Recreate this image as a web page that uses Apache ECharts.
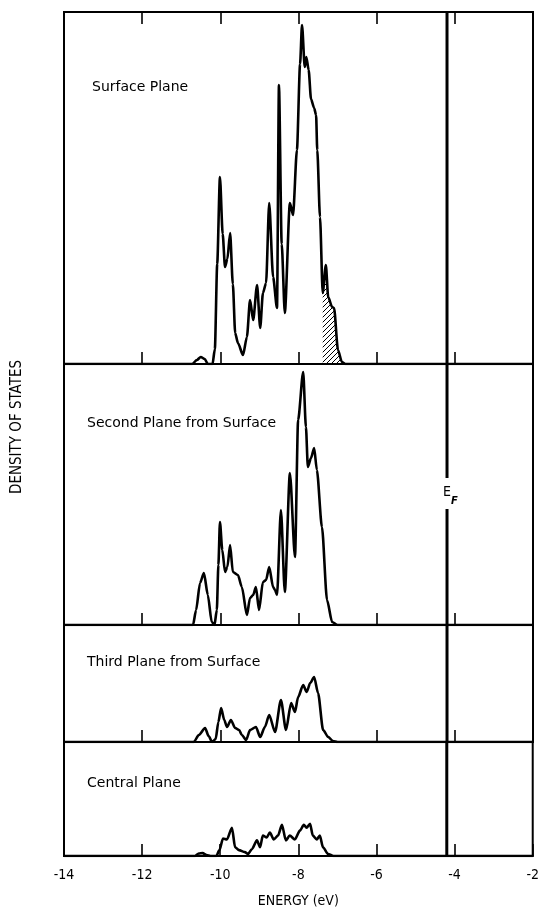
<!DOCTYPE html>
<html>
<head>
<meta charset="utf-8">
<script src="https://cdn.jsdelivr.net/npm/echarts@6/dist/echarts.min.js"></script>
<style>
  html, body { margin: 0; padding: 0; background: #fff; }
  #chart { width: 542px; height: 909px; }
</style>
</head>
<body>
<div id="chart"></div>
<script>
// Energy axis (eV)
const energyMin = -14;
const energyMax = -2;
const energyStep = 2;
const fermiEnergy = -4.2;

// Panel titles, top to bottom
const planeNames = [
  'Surface Plane',
  'Second Plane from Surface',
  'Third Plane from Surface',
  'Central Plane'
];

// Density of states per plane, [energy (eV), DOS (arb. units)]
const surfacePlane = [
  [-14, 0], [-10.72, 0], [-10.6, 0.4], [-10.5, 0.7], [-10.4, 0.5], [-10.32, 0], [-10.2, 0],
  [-10.14, 1.5], [-10.08, 10], [-10.01, 18.7], [-9.94, 13], [-9.88, 9.7], [-9.82, 10.5],
  [-9.75, 13.1], [-9.68, 8], [-9.62, 3.1], [-9.55, 2.1], [-9.42, 0.9], [-9.32, 2.7],
  [-9.24, 6.4], [-9.16, 4.4], [-9.06, 7.9], [-8.98, 3.6], [-8.91, 7.1], [-8.83, 8.1],
  [-8.75, 16.1], [-8.65, 8.7], [-8.55, 5.6], [-8.5, 27.9], [-8.43, 12], [-8.35, 5.1],
  [-8.22, 16.1], [-8.14, 14.9], [-8.04, 21.4], [-7.96, 30], [-7.91, 33.9], [-7.84, 29.7],
  [-7.8, 30.7], [-7.74, 29.4], [-7.68, 26.5], [-7.6, 25.6], [-7.55, 24.9], [-7.52, 21.4],
  [-7.45, 14.7], [-7.38, 7.1], [-7.3, 9.9], [-7.24, 6.7], [-7.14, 5.7], [-7.09, 5.6],
  [-6.99, 1.4], [-6.89, 0.2], [-6.8, 0], [-2, 0]
];

const secondPlane = [
  [-14, 0], [-10.7, 0], [-10.62, 1.5], [-10.52, 4.2], [-10.42, 5.2], [-10.32, 3], [-10.22, 0.3],
  [-10.15, 0], [-10.09, 1.5], [-10.05, 6], [-10.01, 10.3], [-9.95, 7.5], [-9.88, 5.3],
  [-9.82, 5.8], [-9.75, 8.0], [-9.68, 5.3], [-9.55, 5.0], [-9.45, 3.8], [-9.32, 1.0],
  [-9.24, 2.7], [-9.16, 3.0], [-9.09, 3.8], [-9.01, 1.5], [-8.91, 4.3], [-8.83, 4.5],
  [-8.75, 5.8], [-8.65, 3.8], [-8.6, 3.5], [-8.55, 3.0], [-8.45, 11.5], [-8.35, 3.3],
  [-8.22, 15.2], [-8.09, 6.8], [-8.01, 20.5], [-7.88, 25.3], [-7.81, 19.8], [-7.76, 15.8],
  [-7.68, 16.7], [-7.6, 17.7], [-7.53, 15.5], [-7.4, 9.8], [-7.27, 2.5], [-7.14, 0.3],
  [-7.0, 0], [-2, 0]
];

const thirdPlane = [
  [-14, 0], [-10.68, 0], [-10.55, 0.7], [-10.39, 1.4], [-10.3, 0.6], [-10.21, 0], [-10.12, 0.3],
  [-10.05, 2], [-9.98, 3.4], [-9.9, 2.2], [-9.83, 1.5], [-9.73, 2.2], [-9.62, 1.4],
  [-9.52, 1.2], [-9.45, 0.7], [-9.34, 0.2], [-9.24, 1.2], [-9.09, 1.5], [-8.98, 0.5],
  [-8.86, 1.5], [-8.75, 2.7], [-8.6, 1.0], [-8.45, 4.2], [-8.32, 1.2], [-8.19, 3.9],
  [-8.09, 3.0], [-8.01, 4.5], [-7.88, 5.7], [-7.79, 5.0], [-7.7, 5.9], [-7.6, 6.5],
  [-7.5, 4.9], [-7.37, 1.2], [-7.24, 0.5], [-7.12, 0.1], [-7.0, 0], [-2, 0]
];

const centralPlane = [
  [-14, 0], [-10.65, 0], [-10.55, 0.25], [-10.45, 0.3], [-10.35, 0.1], [-10.25, 0], [-10.1, 0],
  [-10.02, 0.6], [-9.93, 1.8], [-9.83, 1.7], [-9.7, 2.9], [-9.62, 0.9], [-9.52, 0.6],
  [-9.37, 0.4], [-9.29, 0.2], [-9.19, 0.7], [-9.06, 1.6], [-8.98, 0.9], [-8.91, 2.1],
  [-8.81, 1.9], [-8.73, 2.4], [-8.63, 1.7], [-8.52, 2.1], [-8.42, 3.2], [-8.32, 1.6],
  [-8.22, 2.1], [-8.09, 1.7], [-7.96, 2.6], [-7.86, 3.2], [-7.79, 2.9], [-7.7, 3.3],
  [-7.63, 2.1], [-7.53, 1.7], [-7.45, 2.1], [-7.37, 0.9], [-7.24, 0.2], [-7.1, 0], [-2, 0]
];

// Shaded part of the surface-plane DOS (energy window, eV)
const hatchWindow = [-7.4, -6.85];

// Full-scale DOS of each panel (same units in every panel)
const panelMax = [35.2, 26.1, 11.7, 11.7];
// Gap in the Fermi-level line (second panel) that leaves room for its label
const fermiGap = [11.6, 14.7];

const planes = [surfacePlane, secondPlane, thirdPlane, centralPlane];

// Layout of the stacked panels (pixels)
const plotLeft = 64, plotRight = 9;
const panelTops = [12, 364, 625, 742];
const panelHeights = [352, 261, 117, 117];

const font = "'DejaVu Sans Condensed', 'DejaVu Sans', sans-serif";
const textFont = "'DejaVu Sans', sans-serif";

// Diagonal hatch pattern
function hatchPattern() {
  const c = document.createElement('canvas');
  c.width = 5; c.height = 5;
  const g = c.getContext('2d');
  g.strokeStyle = '#000';
  g.lineWidth = 1;
  g.beginPath();
  g.moveTo(0, 5); g.lineTo(5, 0);
  g.moveTo(-1, 1); g.lineTo(1, -1);
  g.moveTo(4, 6); g.lineTo(6, 4);
  g.stroke();
  return { image: c, repeat: 'repeat' };
}

const chart = echarts.init(document.getElementById('chart'), null, { renderer: 'canvas' });

const grids = [], xAxes = [], yAxes = [], series = [];

planes.forEach((data, i) => {
  grids.push({
    left: plotLeft, right: plotRight, top: panelTops[i], height: panelHeights[i],
    show: true, borderColor: '#000', borderWidth: 2, backgroundColor: 'transparent'
  });
  const last = i === planes.length - 1;
  xAxes.push({
    type: 'value', gridIndex: i, position: 'bottom',
    min: energyMin, max: energyMax, interval: energyStep,
    axisLine: { show: true, lineStyle: { color: '#000', width: 2 } },
    axisTick: { show: true, inside: true, length: 12, lineStyle: { color: '#000', width: 1.6 } },
    splitLine: { show: false },
    axisLabel: {
      show: last, color: '#000', fontFamily: font, fontSize: 14, margin: 12
    },
    name: last ? 'ENERGY (eV)' : '',
    nameLocation: 'middle', nameGap: 38,
    nameTextStyle: { color: '#000', fontFamily: font, fontSize: 14 }
  });
  yAxes.push({
    type: 'value', gridIndex: i, min: 0, max: panelMax[i], show: false
  });
});

// Tick marks along the top edge of the first panel
xAxes.push({
  type: 'value', gridIndex: 0, position: 'top',
  min: energyMin, max: energyMax, interval: energyStep,
  axisLine: { show: true, lineStyle: { color: '#000', width: 2 } },
  axisTick: { show: true, inside: true, length: 12, lineStyle: { color: '#000', width: 1.6 } },
  axisLabel: { show: false }, splitLine: { show: false }
});

planes.forEach((data, i) => {
  series.push({
    type: 'line', xAxisIndex: i, yAxisIndex: i, data: data,
    smooth: 0.25, smoothMonotone: 'x', symbol: 'none',
    lineStyle: { color: '#000', width: 2.6 }, z: 3, silent: true
  });
  // Fermi level
  const top = panelMax[i];
  const fermiData = i === 1
    ? [[fermiEnergy, 0], [fermiEnergy, fermiGap[0]], null, [fermiEnergy, fermiGap[1]], [fermiEnergy, top]]
    : [[fermiEnergy, 0], [fermiEnergy, top]];
  series.push({
    type: 'line', xAxisIndex: i, yAxisIndex: i, data: fermiData,
    symbol: 'none', connectNulls: false,
    lineStyle: { color: '#000', width: 3 }, z: 4, silent: true
  });
});

// Hatched region under the surface-plane curve
series.push({
  type: 'line', xAxisIndex: 0, yAxisIndex: 0,
  data: surfacePlane.filter(p => p[0] >= hatchWindow[0] && p[0] <= hatchWindow[1]),
  smooth: 0.25, smoothMonotone: 'x', symbol: 'none',
  lineStyle: { width: 0 },
  areaStyle: { color: hatchPattern(), opacity: 1 },
  z: 2, silent: true
});

chart.setOption({
  animation: false,
  backgroundColor: '#fff',
  grid: grids, xAxis: xAxes, yAxis: yAxes, series: series
});

// Labels: panel titles, axis title, Fermi level
const labelPos = [[92, 88], [87, 424], [87, 663], [87, 784]];
const graphics = planeNames.map((name, i) => ({
  type: 'text', left: labelPos[i][0], top: labelPos[i][1] - 8,
  style: { text: name, fill: '#000', font: '14px ' + textFont }
}));
graphics.push({
  type: 'text', x: 17, y: 427, rotation: Math.PI / 2,
  style: { text: 'DENSITY OF STATES', fill: '#000', font: '15px ' + font,
           align: 'center', verticalAlign: 'middle' }
});
const efPix = chart.convertToPixel({ xAxisIndex: 1, yAxisIndex: 1 }, [fermiEnergy, (fermiGap[0] + fermiGap[1]) / 2]);
graphics.push({
  type: 'text', x: efPix[0] - 4, y: efPix[1] - 1,
  style: { text: 'E', fill: '#000', font: '14px ' + font, align: 'left', verticalAlign: 'middle' }
});
graphics.push({
  type: 'text', x: efPix[0] + 4, y: efPix[1] + 8,
  style: { text: 'F', fill: '#000', font: 'italic bold 11px ' + font, align: 'left', verticalAlign: 'middle' }
});
chart.setOption({ graphic: graphics });
</script>
</body>
</html>
